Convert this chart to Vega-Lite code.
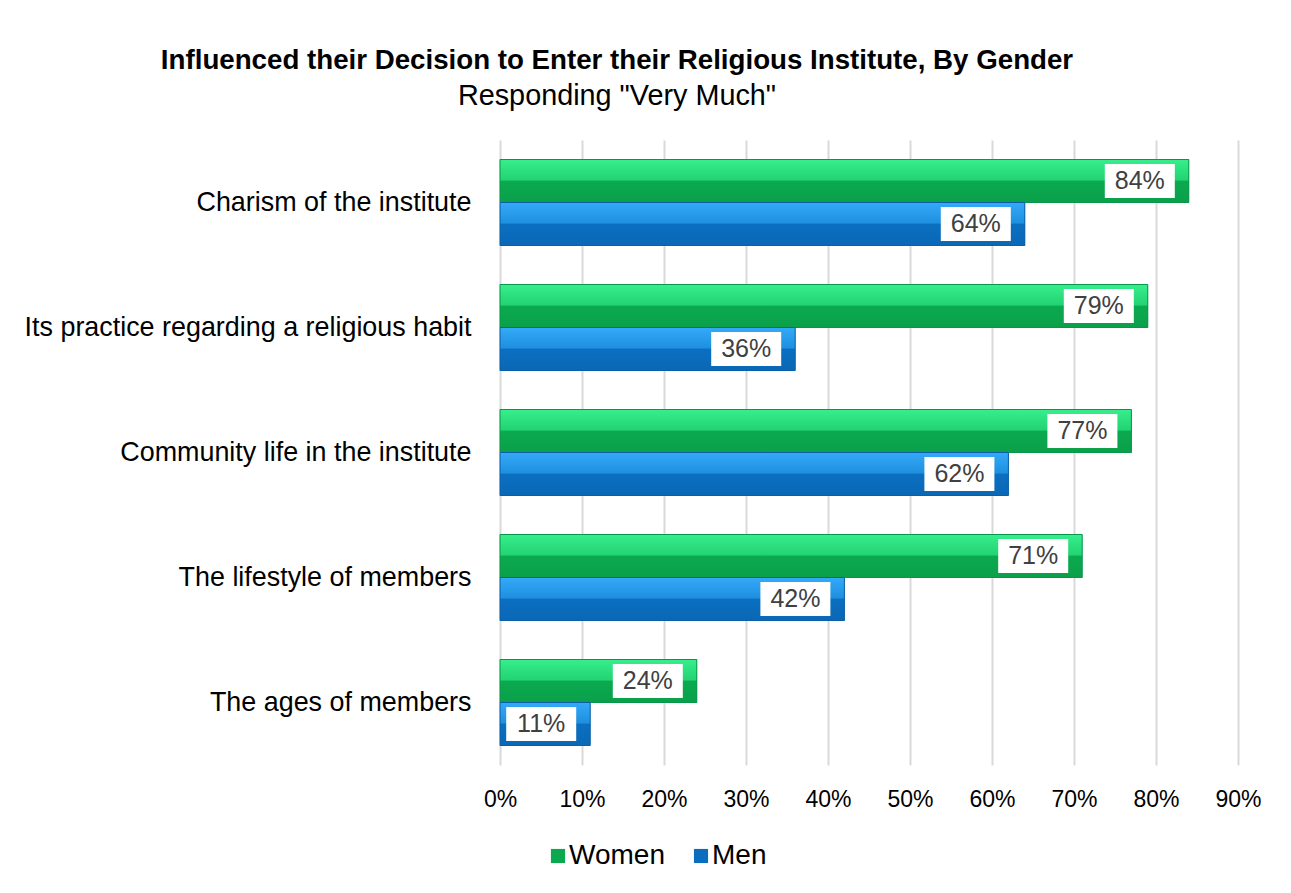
{
  "$schema": "https://vega.github.io/schema/vega-lite/v6.json",
  "width": 738,
  "height": 625,
  "autosize": {"type": "none"},
  "padding": {"left": 500, "top": 140, "right": 53, "bottom": 128},
  "background": "white",
  "config": {"view": {"stroke": null}, "font": "Liberation Sans"},
  "title": {
    "text": "Influenced their Decision to Enter their Religious Institute, By Gender",
    "subtitle": "Responding \"Very Much\"",
    "anchor": "middle",
    "dx": -252,
    "fontSize": 27.7,
    "fontWeight": "bold",
    "subtitleFontSize": 28.8,
    "subtitleFont": "Liberation Sans",
    "color": "#000000",
    "subtitleColor": "#000000",
    "offset": 29,
    "subtitlePadding": 8
  },
  "data": {
    "values": [
      {"category": "Charism of the institute", "gender": "Women", "value": 0.84},
      {"category": "Charism of the institute", "gender": "Men", "value": 0.64},
      {"category": "Its practice regarding a religious habit", "gender": "Women", "value": 0.79},
      {"category": "Its practice regarding a religious habit", "gender": "Men", "value": 0.36},
      {"category": "Community life in the institute", "gender": "Women", "value": 0.77},
      {"category": "Community life in the institute", "gender": "Men", "value": 0.62},
      {"category": "The lifestyle of members", "gender": "Women", "value": 0.71},
      {"category": "The lifestyle of members", "gender": "Men", "value": 0.42},
      {"category": "The ages of members", "gender": "Women", "value": 0.24},
      {"category": "The ages of members", "gender": "Men", "value": 0.11}
    ]
  },
  "encoding": {
    "y": {
      "field": "category",
      "type": "nominal",
      "sort": ["Charism of the institute", "Its practice regarding a religious habit", "Community life in the institute", "The lifestyle of members", "The ages of members"],
      "scale": {"paddingInner": 0.312, "paddingOuter": 0.156},
      "axis": {"title": null, "ticks": false, "domain": false, "labelFontSize": 26.9, "labelColor": "#000000", "labelPadding": 29, "labelLimit": 0}
    },
    "x": {
      "field": "value",
      "type": "quantitative",
      "scale": {"domain": [0, 0.9], "nice": false},
      "axis": {"format": ".0%", "values": [0, 0.1, 0.2, 0.3, 0.4, 0.5, 0.6, 0.7, 0.8, 0.9], "grid": true, "gridColor": "#D9D9D9", "gridWidth": 2, "domain": false, "ticks": false, "title": null, "labelFontSize": 23, "labelColor": "#000000", "labelPadding": 23, "labelFlush": false}
    },
    "yOffset": {"field": "gender", "sort": ["Women", "Men"]}
  },
  "layer": [
    {
      "mark": {"type": "bar"},
      "encoding": {
        "color": {
          "field": "gender",
          "type": "nominal",
          "sort": ["Women", "Men"],
          "scale": {"domain": ["Women", "Men"], "range": ["#0BA84E", "#0B6DBE"]},
          "legend": {"title": null, "orient": "none", "legendX": 44, "legendY": 702, "direction": "horizontal", "symbolType": "square", "symbolSize": 200, "symbolStrokeWidth": 0, "labelFontSize": 28, "labelColor": "#000000", "columnPadding": 22, "labelOffset": -3}
        }
      }
    },
    {
      "transform": [{"filter": "datum.gender === 'Women'"}],
      "mark": {"type": "bar", "stroke": "#08964A", "strokeWidth": 1, "fill": {"gradient": "linear", "x1": 0, "y1": 0, "x2": 0, "y2": 1, "stops": [{"offset": 0, "color": "#38EE8C"}, {"offset": 0.48, "color": "#22D373"}, {"offset": 0.5, "color": "#0BAA4F"}, {"offset": 1, "color": "#0AA04A"}]}}
    },
    {
      "transform": [{"filter": "datum.gender === 'Men'"}],
      "mark": {"type": "bar", "stroke": "#0A5FA6", "strokeWidth": 1, "fill": {"gradient": "linear", "x1": 0, "y1": 0, "x2": 0, "y2": 1, "stops": [{"offset": 0, "color": "#34AAF8"}, {"offset": 0.48, "color": "#1F8FE0"}, {"offset": 0.5, "color": "#0B6FC0"}, {"offset": 1, "color": "#0A68B6"}]}}
    },
    {
      "mark": {"type": "point", "shape": "M-2.4,-0.486H-0.4V0.486H-2.4Z", "size": 4900, "filled": true, "fill": "#FFFFFF", "opacity": 1, "strokeWidth": 0}
    },
    {
      "mark": {"type": "text", "dx": -49, "align": "center", "baseline": "middle", "fontSize": 25, "color": "#404040"},
      "encoding": {"text": {"field": "value", "type": "quantitative", "format": ".0%"}}
    }
  ]
}
